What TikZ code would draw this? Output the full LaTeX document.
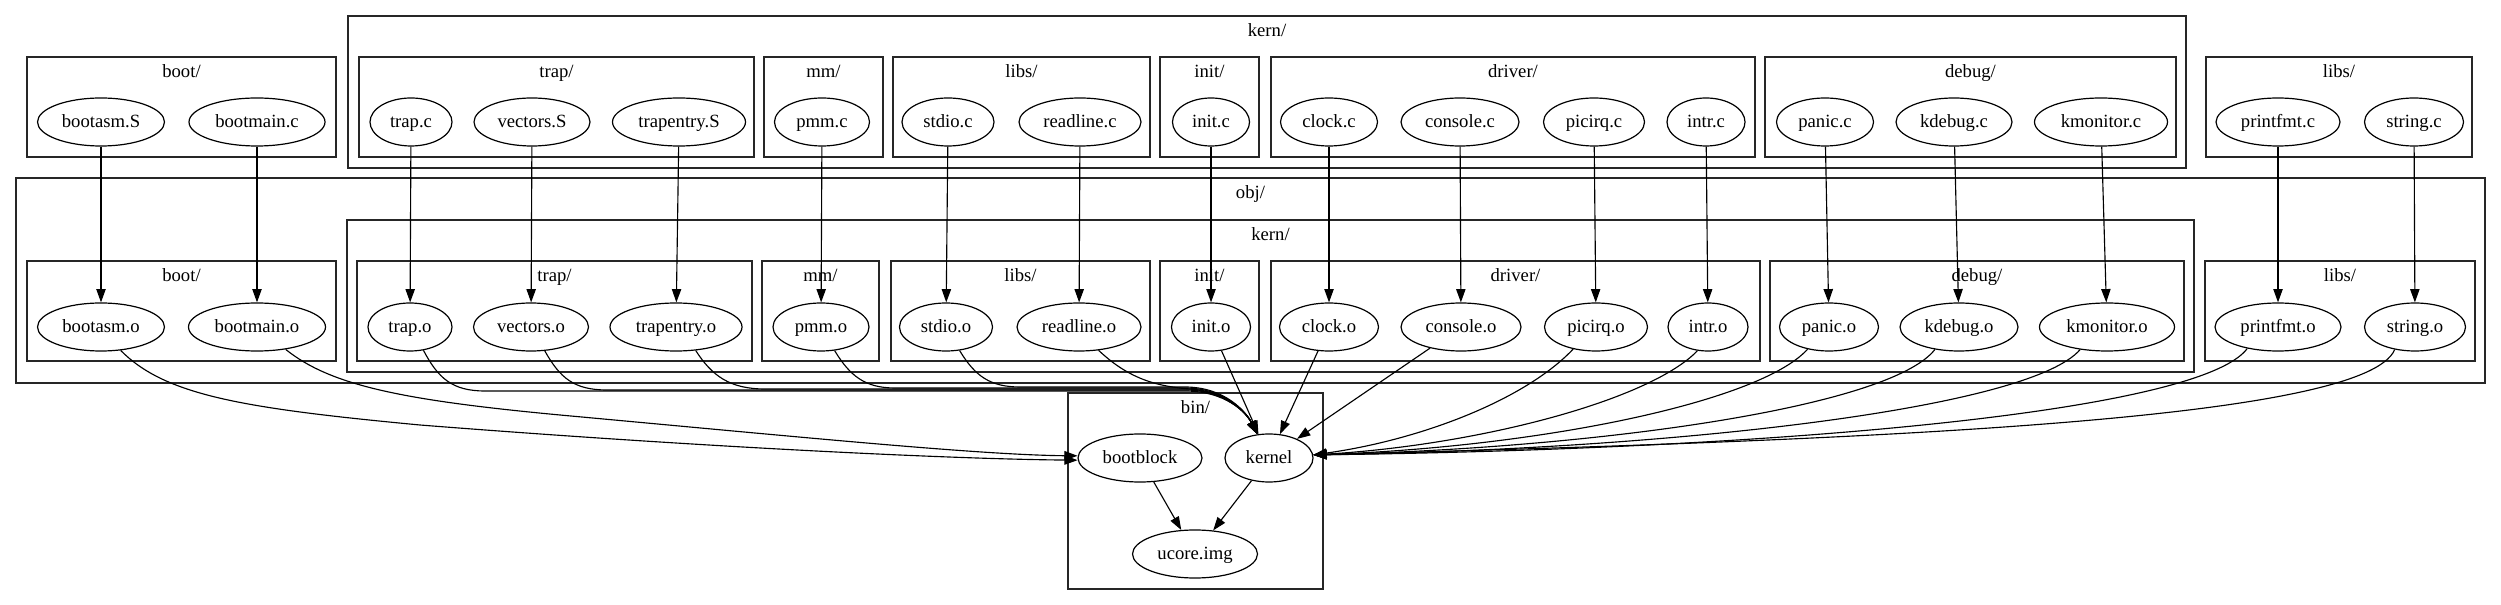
\documentclass[tikz,border=0pt]{standalone}
\usepackage{fontspec}
\setmainfont{Liberation Serif}
\usetikzlibrary{shapes.geometric,arrows.meta}
\begin{document}
\begin{tikzpicture}[x=0.75pt,y=-0.75pt,
  fn/.style={draw, ellipse, inner sep=0pt, minimum height=36pt, line width=0.9pt,
    font=\fontsize{14pt}{16pt}\selectfont, text height=10pt, text depth=2pt},
  fw/.style={minimum width=#1*0.75pt},
  cl/.style={draw=black!85, line width=1.1pt},
  lbl/.style={anchor=base, inner sep=0pt, font=\fontsize{14pt}{16pt}\selectfont},
  arr/.style={line width=0.85pt, -{Triangle[length=10pt,width=7pt]}}]
\path[fill=white,use as bounding box] (0,0) rectangle (2501,605);
% clusters: source tree
\draw[cl] (348,16) rectangle (2186,168);
\draw[cl] (27,57) rectangle (336,157);
\draw[cl] (359,57) rectangle (754,157);
\draw[cl] (764,57) rectangle (883,157);
\draw[cl] (893,57) rectangle (1150,157);
\draw[cl] (1160,57) rectangle (1259,157);
\draw[cl] (1271,57) rectangle (1755,157);
\draw[cl] (1765,57) rectangle (2176,157);
\draw[cl] (2206,57) rectangle (2472,157);
% clusters: obj tree
\draw[cl] (16,178) rectangle (2485,383);
\draw[cl] (347,220) rectangle (2194,372);
\draw[cl] (27,261) rectangle (336,361);
\draw[cl] (357,261) rectangle (752,361);
\draw[cl] (762,261) rectangle (879,361);
\draw[cl] (891,261) rectangle (1150,361);
\draw[cl] (1160,261) rectangle (1259,361);
\draw[cl] (1271,261) rectangle (1760,361);
\draw[cl] (1770,261) rectangle (2184,361);
\draw[cl] (2205,261) rectangle (2475,361);
% cluster: bin
\draw[cl] (1068,393) rectangle (1323,589);
% cluster labels
\node[lbl] (l1) at (1267,37) {kern/};
\node[lbl] (l2) at (181.5,78) {boot/};
\node[lbl] (l3) at (556.5,78) {trap/};
\node[lbl] (l4) at (823.5,78) {mm/};
\node[lbl] (l5) at (1021.5,78) {libs/};
\node[lbl] (l6) at (1209.5,78) {init/};
\node[lbl] (l7) at (1513,78) {driver/};
\node[lbl] (l8) at (1970.5,78) {debug/};
\node[lbl] (l9) at (2339,78) {libs/};
\node[lbl] (l10) at (1250.5,199) {obj/};
\node[lbl] (l11) at (1270.5,241) {kern/};
\node[lbl] (l12) at (181.5,282) {boot/};
\node[lbl] (l13) at (554.5,282) {trap/};
\node[lbl] (l14) at (820.5,282) {mm/};
\node[lbl] (l15) at (1020.5,282) {libs/};
\node[lbl] (l16) at (1209.5,282) {init/};
\node[lbl] (l17) at (1515.5,282) {driver/};
\node[lbl] (l18) at (1977,282) {debug/};
\node[lbl] (l19) at (2340,282) {libs/};
\node[lbl] (l20) at (1195.5,414) {bin/};
% source nodes
\node[fn,fw=127] (bsS) at (101,122) {bootasm.S};
\node[fn,fw=136] (bmc) at (257,122) {bootmain.c};
\node[fn,fw=82]  (trc) at (411,122) {trap.c};
\node[fn,fw=116] (vS)  at (532,122) {vectors.S};
\node[fn,fw=133] (teS) at (679,122) {trapentry.S};
\node[fn,fw=95]  (pmc) at (822,122) {pmm.c};
\node[fn,fw=92]  (stc) at (948,122) {stdio.c};
\node[fn,fw=122] (rlc) at (1080,122) {readline.c};
\node[fn,fw=77]  (inc) at (1211,122) {init.c};
\node[fn,fw=97]  (clc) at (1329,122) {clock.c};
\node[fn,fw=118] (coc) at (1460,122) {console.c};
\node[fn,fw=101] (pic) at (1594,122) {picirq.c};
\node[fn,fw=78]  (itc) at (1706,122) {intr.c};
\node[fn,fw=97]  (pac) at (1825,122) {panic.c};
\node[fn,fw=116] (kdc) at (1954,122) {kdebug.c};
\node[fn,fw=133] (kmc) at (2101,122) {kmonitor.c};
\node[fn,fw=124] (pfc) at (2278,122) {printfmt.c};
\node[fn,fw=99]  (sgc) at (2414,122) {string.c};
% object nodes
\node[fn,fw=127] (bso) at (101,327) {bootasm.o};
\node[fn,fw=137] (bmo) at (257,327) {bootmain.o};
\node[fn,fw=84]  (tro) at (410,327) {trap.o};
\node[fn,fw=115] (vo)  at (531,327) {vectors.o};
\node[fn,fw=132] (teo) at (676,327) {trapentry.o};
\node[fn,fw=96]  (pmo) at (821,327) {pmm.o};
\node[fn,fw=93]  (sto) at (946,327) {stdio.o};
\node[fn,fw=124] (rlo) at (1079,327) {readline.o};
\node[fn,fw=79]  (ino) at (1211,327) {init.o};
\node[fn,fw=99]  (clo) at (1329,327) {clock.o};
\node[fn,fw=120] (coo) at (1461,327) {console.o};
\node[fn,fw=103] (pio) at (1596,327) {picirq.o};
\node[fn,fw=80]  (ito) at (1708,327) {intr.o};
\node[fn,fw=99]  (pao) at (1829,327) {panic.o};
\node[fn,fw=118] (kdo) at (1959,327) {kdebug.o};
\node[fn,fw=135] (kmo) at (2107,327) {kmonitor.o};
\node[fn,fw=126] (pfo) at (2278,327) {printfmt.o};
\node[fn,fw=101] (sgo) at (2415,327) {string.o};
% bin nodes
\node[fn,fw=124] (bootblock) at (1140,458) {bootblock};
\node[fn,fw=88]  (kernel) at (1269,458) {kernel};
\node[fn,fw=125] (ucore) at (1195,554) {ucore.img};
% compile edges
\draw[arr] (bsS) -- (bso);
\draw[arr] (bmc) -- (bmo);
\draw[arr] (trc) -- (tro);
\draw[arr] (vS) -- (vo);
\draw[arr] (teS) -- (teo);
\draw[arr] (pmc) -- (pmo);
\draw[arr] (stc) -- (sto);
\draw[arr] (rlc) -- (rlo);
\draw[arr] (inc) -- (ino);
\draw[arr] (clc) -- (clo);
\draw[arr] (coc) -- (coo);
\draw[arr] (pic) -- (pio);
\draw[arr] (itc) -- (ito);
\draw[arr] (pac) -- (pao);
\draw[arr] (kdc) -- (kdo);
\draw[arr] (kmc) -- (kmo);
\draw[arr] (pfc) -- (pfo);
\draw[arr] (sgc) -- (sgo);
% boot objects to bootblock
\draw[arr] (bso.-50) .. controls (165,395) and (240,408) .. (420,425)
  .. controls (700,447) and (950,459) .. (bootblock.182);
\draw[arr] (bmo.-38) .. controls (330,385) and (400,400) .. (560,415)
  .. controls (800,437) and (980,455) .. (bootblock.178);
% left group to kernel
\draw[arr] (tro.-60) .. controls (438,378) and (452,391) .. (485,391)
  -- (1185,391) .. controls (1225,391) and (1246,412) .. (kernel.116);
\draw[arr] (vo.-60) .. controls (560,378) and (574,390) .. (607,390)
  -- (1185,390) .. controls (1225,390) and (1246,412) .. (kernel.116);
\draw[arr] (teo.-50) .. controls (712,376) and (730,389) .. (765,389)
  -- (1185,389) .. controls (1225,389) and (1246,412) .. (kernel.116);
\draw[arr] (pmo.-60) .. controls (850,376) and (865,388) .. (895,388)
  -- (1185,388) .. controls (1225,388) and (1246,412) .. (kernel.116);
\draw[arr] (sto.-60) .. controls (975,376) and (990,387) .. (1020,387)
  -- (1185,387) .. controls (1225,387) and (1246,412) .. (kernel.116);
\draw[arr] (rlo.-50) .. controls (1125,375) and (1150,386) .. (1190,389)
  .. controls (1225,392) and (1246,412) .. (kernel.116);
% straight ones
\draw[arr] (ino) -- (kernel);
\draw[arr] (clo) -- (kernel);
\draw[arr] (coo) -- (kernel);
% right group to kernel
\draw[arr] (pio.-136) .. controls (1525,400) and (1420,440) .. (kernel.4);
\draw[arr] (ito.-114) .. controls (1650,400) and (1480,445) .. (kernel.4);
\draw[arr] (pao.-134) .. controls (1760,402) and (1540,447) .. (kernel.4);
\draw[arr] (kdo.-137) .. controls (1890,407) and (1600,448) .. (kernel.4);
\draw[arr] (kmo.-140) .. controls (2030,408) and (1680,449) .. (kernel.4);
\draw[arr] (pfo.-145) .. controls (2200,412) and (1780,449) .. (kernel.4);
\draw[arr] (sgo.-132) .. controls (2365,420) and (1880,440) .. (kernel.4);
% image
\draw[arr] (bootblock) -- (ucore);
\draw[arr] (kernel) -- (ucore);
\end{tikzpicture}
\end{document}
